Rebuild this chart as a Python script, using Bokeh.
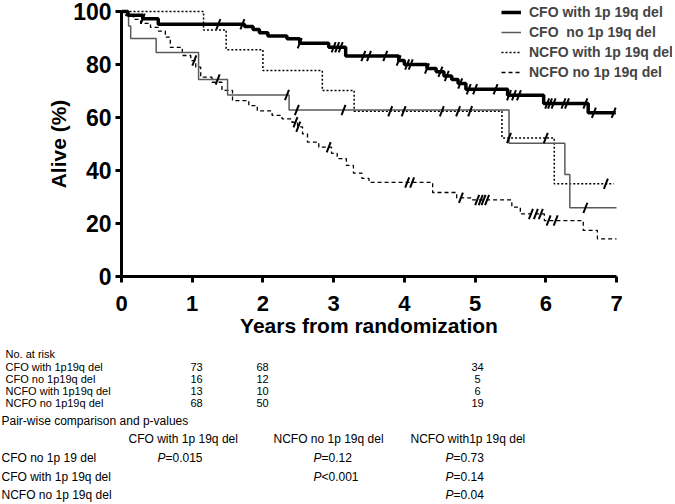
import numpy as np
from bokeh.plotting import figure
from bokeh.models import Range1d, FixedTicker, Legend, LegendItem
from bokeh.core.properties import value
from bokeh.embed import file_html
from bokeh.resources import INLINE

# ---------------- data ----------------
cfo_with_t = [0, 0.09, 0.30, 0.52, 1.74, 1.86, 1.95, 2.07, 2.34, 2.52, 2.93, 3.17, 3.92, 4.00,
              4.32, 4.45, 4.56, 4.67, 4.76, 4.87, 5.46, 5.97, 6.60, 6.99]
cfo_with_s = [100, 98.6, 97.3, 95.2, 94.3, 93.2, 92.0, 90.8, 89.7, 88.0, 86.5, 83.2, 81.5, 80.0,
              78.5, 77.3, 75.7, 74.3, 72.8, 70.7, 68.4, 65.3, 61.8, 61.8]
cfo_with_cens = [0.30, 1.37, 1.71, 2.52, 3.00, 3.05, 3.10, 3.42, 3.50, 3.73, 3.92, 4.04, 4.09,
                 4.32, 4.51, 4.60, 4.79, 4.91, 5.00, 5.29, 5.48, 5.55, 5.62, 6.02, 6.06, 6.11,
                 6.25, 6.30, 6.56, 6.68, 6.96]

cfo_no_t = [0, 0.10, 0.13, 0.49, 1.09, 1.50, 2.37, 5.48, 6.27, 6.34, 7.0]
cfo_no_s = [100, 94.5, 89.8, 84.5, 74.3, 68.5, 62.8, 50.3, 38.5, 25.9, 25.9]
cfo_no_cens = [1.36, 2.34, 2.48, 3.14, 6.56]

ncfo_with_t = [0, 1.16, 1.48, 2.00, 2.84, 3.29, 5.38, 6.12, 6.96]
ncfo_with_s = [100, 93.0, 85.6, 77.7, 70.2, 62.4, 52.3, 35.0, 35.0]
ncfo_with_cens = [3.80, 3.99, 4.53, 4.76, 4.93, 5.48, 6.00, 6.85]

ncfo_no_t = [0, 0.06, 0.17, 0.27, 0.41, 0.52, 0.62, 0.69, 0.86, 0.98, 1.05, 1.12, 1.28, 1.42,
             1.57, 1.80, 1.92, 2.13, 2.27, 2.41, 2.49, 2.56, 2.63, 2.79, 2.97, 3.05, 3.18, 3.28,
             3.40, 3.50, 4.40, 4.74, 4.95, 5.52, 5.64, 5.98, 6.53, 6.73, 7.00]
ncfo_no_s = [100, 98.5, 97.0, 95.5, 94.0, 92.6, 90.3, 86.5, 83.4, 81.5, 79.0, 75.2, 73.3, 70.2,
             66.4, 64.5, 62.5, 60.8, 59.5, 58.2, 56.5, 53.8, 50.7, 48.8, 46.5, 44.5, 41.9, 39.0,
             37.0, 35.5, 31.7, 29.7, 28.9, 26.2, 23.6, 21.1, 17.4, 14.2, 14.2]
ncfo_no_cens = [1.03, 2.46, 2.50, 2.93, 4.04, 4.11, 4.80, 5.03, 5.08, 5.12, 5.17, 5.79, 5.86,
                5.93, 6.04, 6.14]

legend_labels = ["CFO with 1p 19q del", "CFO  no 1p 19q del", "NCFO with 1p 19q del", "NCFO no 1p 19q del"]
x_ticks = [0, 1, 2, 3, 4, 5, 6, 7]
y_ticks = [0, 20, 40, 60, 80, 100]

risk_groups = ["CFO with 1p19q del", "CFO no 1p19q del", "NCFO with 1p19q del", "NCFO no 1p19q del"]
risk_col1 = ["73", "16", "13", "68"]
risk_col2 = ["68", "12", "10", "50"]
risk_col3 = ["34", "5", "6", "19"]

pw_headers = ["CFO with 1p 19q del", "NCFO no 1p 19q del", "NCFO with1p 19q del"]
pw_rows = ["CFO no 1p 19 del", "CFO with 1p 19q del", "NCFO no 1p 19q del"]
pw_values = [["=0.015", "=0.12", "=0.73"],
             ["", "<0.001", "=0.14"],
             ["", "", "=0.04"]]

FONT = "Liberation Sans"

# ---------------- layout constants (pixels) ----------------
W, H = 672, 502
X0_PX, X7_PX = 121, 616      # where t=0 and t=7 sit
Y0_PX, Y100_PX = 276, 11     # where 0% and 100% sit
ppx = (X7_PX - X0_PX) / 7.0
ppy = (Y0_PX - Y100_PX) / 100.0


def surv_at(t_list, s_list, times):
    idx = np.searchsorted(np.array(t_list), np.array(times), side="right") - 1
    return list(np.array(s_list)[idx])


p = figure(width=W, height=H, output_backend="svg", toolbar_location=None,
           x_range=Range1d(-X0_PX / ppx, (W - X0_PX) / ppx),
           y_range=Range1d(-(H - Y0_PX) / ppy, Y0_PX / ppy),
           min_border=0, min_border_left=0, min_border_right=0, min_border_top=0, min_border_bottom=0)
p.title.visible = False
p.outline_line_color = None
p.grid.visible = False
p.extra_x_ranges = {"px": Range1d(0, W)}
p.extra_y_ranges = {"px": Range1d(H, 0)}

styles = [dict(line_color="black", line_width=3.5),
          dict(line_color="#5a5a5a", line_width=1.5),
          dict(line_color="black", line_width=1.5, line_dash="2 2"),
          dict(line_color="black", line_width=1.3, line_dash="4 3")]
series = [(cfo_with_t, cfo_with_s, cfo_with_cens),
          (cfo_no_t, cfo_no_s, cfo_no_cens),
          (ncfo_with_t, ncfo_with_s, ncfo_with_cens),
          (ncfo_no_t, ncfo_no_s, ncfo_no_cens)]

order = [3, 2, 1, 0]
renderers = {}
for i in order:
    t, s, c = series[i]
    renderers[i] = p.step(x=t, y=s, mode="after", **styles[i])
for i in order:
    t, s, c = series[i]
    p.scatter(x=c, y=surv_at(t, s, c), marker="dash", size=11, angle=1.2,
              line_color="black", line_width=2)

for ax in (p.xaxis[0], p.yaxis[0]):
    ax.fixed_location = 0
    ax.axis_line_width = 3
    ax.major_tick_line_width = 3
    ax.major_tick_out = 6
    ax.major_tick_in = 0
    ax.minor_tick_line_color = None
    ax.major_label_text_font = FONT
    ax.major_label_text_font_style = "bold"
    ax.major_label_text_color = "black"
    ax.axis_label_text_font = FONT
    ax.axis_label_text_font_style = "bold"
    ax.axis_label_text_font_size = "21px"
    ax.axis_label_text_color = "black"

p.xaxis.major_label_text_font_size = "22px"
p.yaxis.major_label_text_font_size = "23px"
p.xaxis.bounds = (0, 7)
p.yaxis.bounds = (0, 100)
p.xaxis.ticker = FixedTicker(ticks=x_ticks)
p.yaxis.ticker = FixedTicker(ticks=y_ticks)
p.xaxis.axis_label = "Years from randomization"
p.yaxis.axis_label = "Alive (%)"
p.xaxis.major_label_standoff = 13
p.xaxis.axis_label_standoff = 0
p.yaxis.major_label_standoff = 4
p.yaxis.axis_label_standoff = 0

legend = Legend(items=[LegendItem(label=legend_labels[i], renderers=[renderers[i]]) for i in range(4)],
                location=(501, H - 82), orientation="vertical")
legend.border_line_color = None
legend.background_fill_alpha = 0
legend.padding = 0
legend.margin = 0
legend.spacing = 0
legend.glyph_width = 20
legend.glyph_height = 20
legend.label_height = 20
legend.label_standoff = 8
legend.label_text_font = FONT
legend.label_text_font_style = "bold"
legend.label_text_font_size = "14px"
legend.label_text_baseline = "middle"
p.add_layout(legend)


def txt(x, y, s, size, style="normal", align="left"):
    p.text(x=[x], y=[y], text=[s], text_font=value(FONT), text_font_size=size,
           text_font_style=style, text_align=align, text_baseline="middle", text_color="black",
           x_range_name="px", y_range_name="px")


RS = "11px"
txt(5, 353.5, "No. at risk", RS)
row_y = [366, 378, 390, 402]
for k in range(4):
    txt(5, row_y[k], risk_groups[k], RS)
    txt(196, row_y[k], risk_col1[k], RS, align="center")
    txt(262, row_y[k], risk_col2[k], RS, align="center")
    txt(477, row_y[k], risk_col3[k], RS, align="center")

PS = "12px"
txt(1, 420, "Pair-wise comparison and p-values", PS)
head_x = [128, 273, 410]
for k in range(3):
    txt(head_x[k], 438.5, pw_headers[k], PS)
pv_x = [157, 313, 445]
pw_y = [457.3, 476, 494.5]
for r in range(3):
    txt(1, pw_y[r], pw_rows[r], PS)
    for c in range(3):
        if pw_values[r][c]:
            txt(pv_x[c], pw_y[r], "P", PS, style="italic")
            txt(pv_x[c] + 8, pw_y[r], pw_values[r][c], PS)

open("out.html", "w").write(file_html(p, INLINE))
